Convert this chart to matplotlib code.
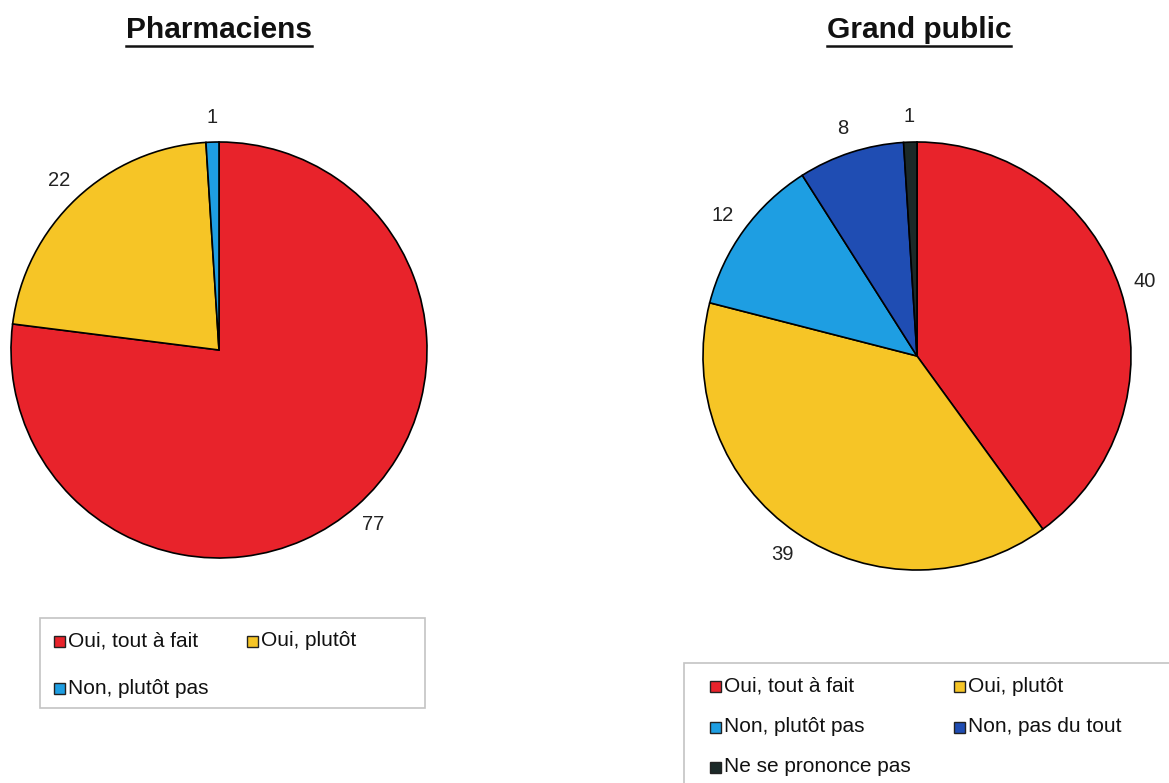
import matplotlib
matplotlib.use("Agg")
import matplotlib.pyplot as plt
from matplotlib.patches import Rectangle
from matplotlib.lines import Line2D

plt.rcParams['font.family'] = ['Liberation Sans', 'DejaVu Sans']

# ---- data ----
left_title = "Pharmaciens"
left_labels = ["Oui, tout à fait", "Oui, plutôt", "Non, plutôt pas"]
left_values = [77, 22, 1]

right_title = "Grand public"
right_labels = ["Oui, tout à fait", "Oui, plutôt", "Non, plutôt pas",
                "Non, pas du tout", "Ne se prononce pas"]
right_values = [40, 39, 12, 8, 1]

colors = ["#E8232B", "#F6C526", "#1E9EE2", "#1F4DB3", "#1B2928"]

W, H = 1169, 783
fig = plt.figure(figsize=(W / 100, H / 100), dpi=100)
fig.patch.set_facecolor("white")


def px_axes(cx, cy, r):
    ax = fig.add_axes([(cx - r) / W, 1 - (cy + r) / H, 2 * r / W, 2 * r / H])
    return ax


def draw_pie(cx, cy, r, values, cols):
    ax = px_axes(cx, cy, r)
    wedges, texts = ax.pie(values, colors=cols, startangle=90, counterclock=False,
                           radius=1, labels=[str(v) for v in values],
                           labeldistance=1.12,
                           wedgeprops=dict(edgecolor="black", linewidth=1.2),
                           textprops=dict(fontsize=14.5, color="#222222"))
    ax.set_xlim(-1, 1)
    ax.set_ylim(-1, 1)
    ax.axis("off")
    for w in wedges:
        w.set_clip_on(False)
    for t in texts:
        t.set_ha("center")
        t.set_va("center")
        t.set_clip_on(False)
    return ax


def title(x, y, s):
    t = fig.text(x / W, 1 - y / H, s, ha="center", va="center",
                 fontsize=21.5, fontweight="bold", color="#111111")
    fig.canvas.draw()
    bb = t.get_window_extent(fig.canvas.get_renderer())
    yl = bb.y0 - 2
    fig.add_artist(Line2D([bb.x0 / W, bb.x1 / W], [yl / H, yl / H],
                          transform=fig.transFigure, color="#111111", lw=1.8))


def legend(box, labels, cols, col_x, row_y):
    x0, y0, x1, y1 = box
    fig.add_artist(Rectangle((x0 / W, 1 - y1 / H), (x1 - x0) / W, (y1 - y0) / H,
                             transform=fig.transFigure, facecolor="white",
                             edgecolor="#c4c4c4", lw=1.2, clip_on=False))
    for i, (lab, c) in enumerate(zip(labels, cols)):
        cx = col_x[i % 2]
        cy = row_y[i // 2]
        s = 11
        fig.add_artist(Rectangle((cx / W, 1 - (cy + s / 2) / H), s / W, s / H,
                                 transform=fig.transFigure, facecolor=c,
                                 edgecolor="#222222", lw=1.0))
        fig.text((cx + s + 3) / W, 1 - cy / H, lab, ha="left", va="center",
                 fontsize=15, color="#111111")


draw_pie(219, 350, 208, left_values, colors[:3])
draw_pie(917, 356, 214, right_values, colors)

title(219, 30, left_title)
title(919, 30, right_title)

legend((40, 618, 425, 708), left_labels, colors[:3], [54, 247], [641, 688])
legend((684, 663, 1175, 790), right_labels, colors, [710, 954], [686, 727, 767])

fig.savefig("out.png", dpi=100, facecolor="white")
